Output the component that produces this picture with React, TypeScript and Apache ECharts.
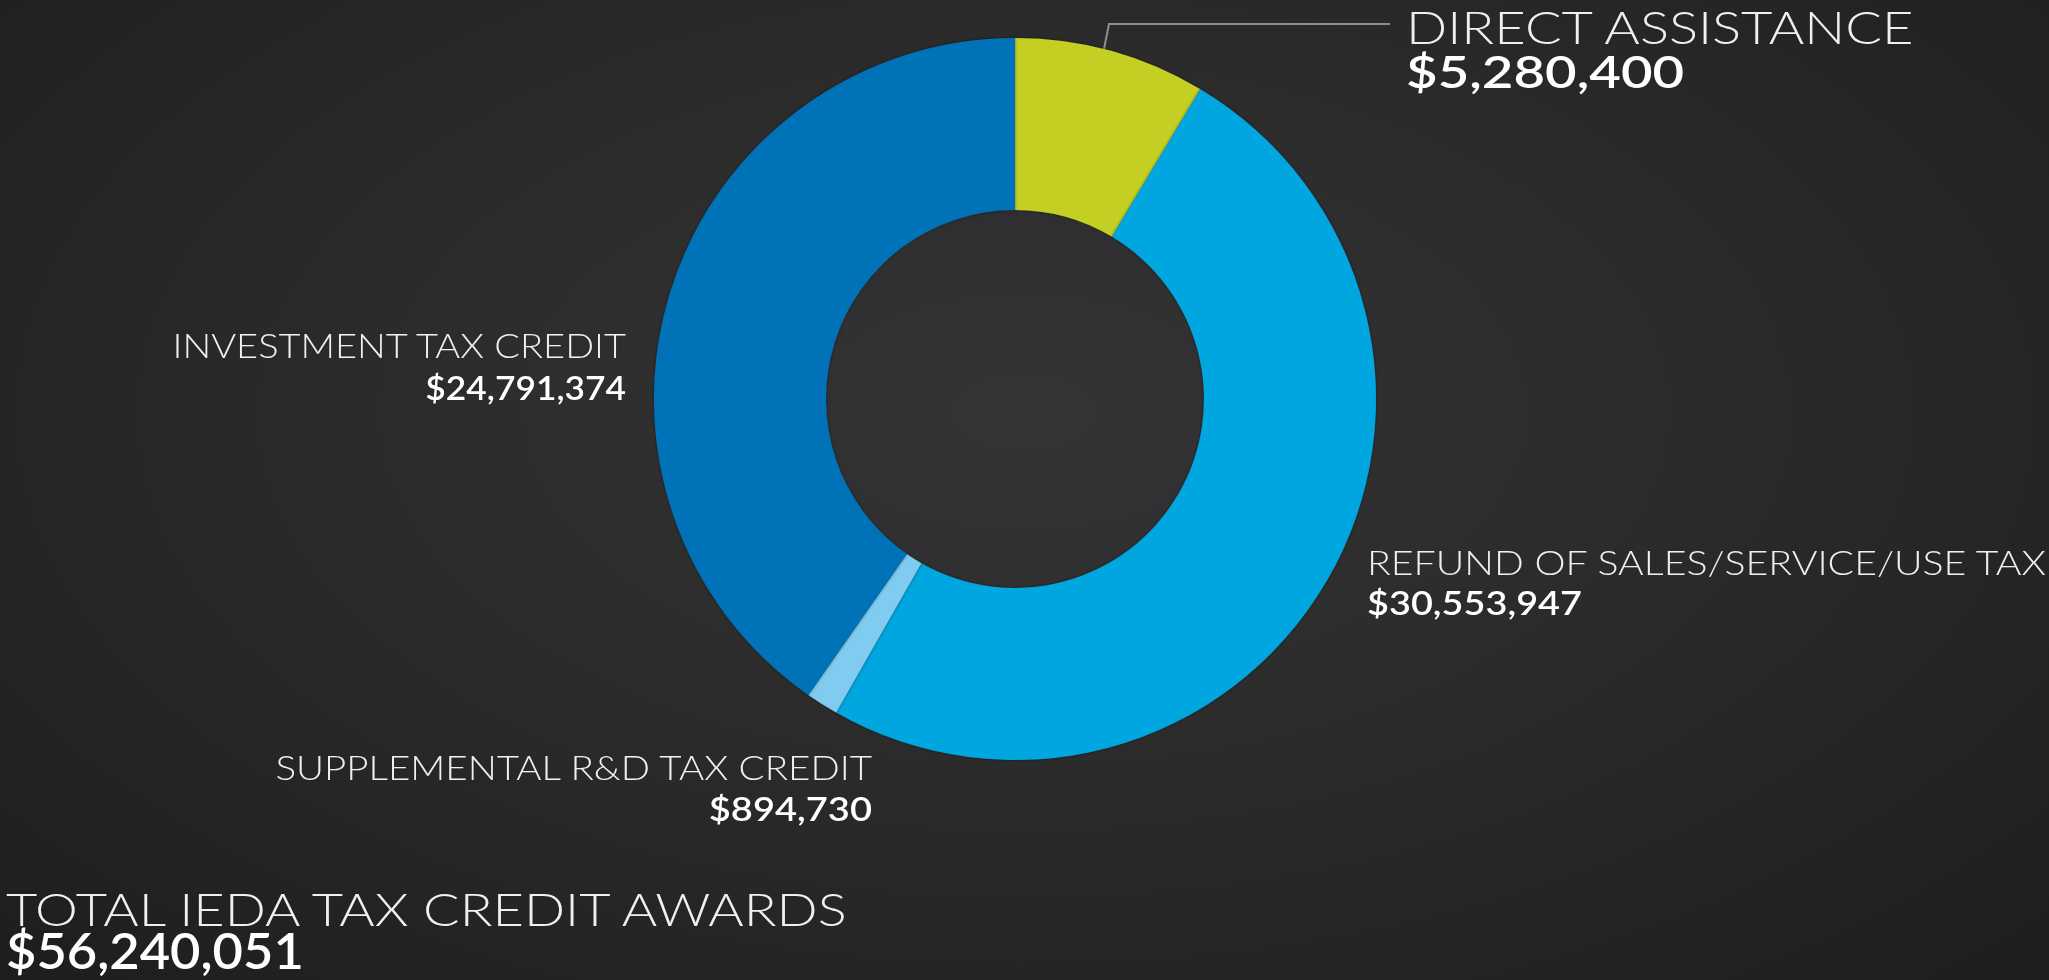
import React, { useEffect, useRef } from "react";
import * as echarts from "echarts";

const categories = [
  "DIRECT ASSISTANCE",
  "REFUND OF SALES/SERVICE/USE TAX",
  "SUPPLEMENTAL R&D TAX CREDIT",
  "INVESTMENT TAX CREDIT",
];
const values = [5280400, 30553947, 894730, 24791374];
const isTaxCredit = [false, true, true, true];
const colors = ["#C3CF22", "#05A6E0", "#80CCF0", "#0672B8"];
const totalTitle = "TOTAL IEDA TAX CREDIT AWARDS";

const fmt = (v: number) => "$" + v.toLocaleString("en-US");

// label placement (layout / style only)
const labelPlaces = [
  { x: 1406, align: "left", nameY: 27, nameSize: 44.6, nameScale: 1.217, valY: 71, valSize: 44, valScale: 1.24 },
  { x: 1367, align: "left", nameY: 562, nameSize: 33, nameScale: 1.19, valY: 602, valSize: 33.5, valScale: 1.13 },
  { x: 872, align: "right", nameY: 767, nameSize: 33.5, nameScale: 1.15, valY: 808, valSize: 33.5, valScale: 1.136 },
  { x: 626, align: "right", nameY: 345.5, nameSize: 33, nameScale: 1.153, valY: 388, valSize: 32.5, valScale: 1.087 },
];
const totalPlace = { x: 6, nameY: 909, nameSize: 45.6, nameScale: 1.187, valY: 950, valSize: 49, valScale: 1.07 };
const leaderLine = [[1097, 84], [1109, 24], [1390, 24]];

const NAME_FONT = "Lato";
const VAL_FONT = "Lato";

function txt(text: string, x: number, y: number, size: number, scale: number, align: string, bold: boolean) {
  return {
    type: "text",
    x,
    y,
    scaleX: scale,
    scaleY: 1,
    silent: true,
    style: {
      text,
      fontFamily: bold ? VAL_FONT : NAME_FONT,
      fontWeight: bold ? 600 : 300,
      fontSize: size,
      fill: bold ? "#ffffff" : "#f0f0f0",
      align,
      verticalAlign: "middle",
    },
  };
}

export default function App() {
  const ref = useRef<HTMLDivElement>(null);
  useEffect(() => {
    document.body.style.margin = "0";
    const chart = echarts.init(ref.current!, null, { renderer: "svg" });
    const total = values.reduce((s, v, i) => (isTaxCredit[i] ? s + v : s), 0);
    const graphics: any[] = [];
    categories.forEach((c, i) => {
      const p = labelPlaces[i];
      graphics.push(txt(c, p.x, p.nameY, p.nameSize, p.nameScale, p.align, false));
      graphics.push(txt(fmt(values[i]), p.x, p.valY, p.valSize, p.valScale, p.align, true));
    });
    graphics.push(txt(totalTitle, totalPlace.x, totalPlace.nameY, totalPlace.nameSize, totalPlace.nameScale, "left", false));
    graphics.push(txt(fmt(total), totalPlace.x, totalPlace.valY, totalPlace.valSize, totalPlace.valScale, "left", true));
    graphics.push({
      type: "polyline",
      silent: true,
      shape: { points: leaderLine },
      style: { stroke: "#8e8e8e", lineWidth: 2, fill: "none" },
    });
    chart.setOption({
      animation: false,
      backgroundColor: "transparent",
      graphic: graphics,
      series: [
        {
          type: "pie",
          center: [1015, 399],
          radius: [189, 361],
          startAngle: 90,
          clockwise: true,
          label: { show: false },
          labelLine: { show: false },
          itemStyle: { shadowBlur: 3, shadowColor: "rgba(0,0,0,0.5)" },
          data: categories.map((c, i) => ({
            name: c,
            value: values[i],
            itemStyle: { color: colors[i] },
          })),
        },
      ],
    });
    return () => chart.dispose();
  }, []);
  return (
    <div
      style={{
        position: "fixed",
        left: 0,
        top: 0,
        width: 2049,
        height: 980,
        background:
          "radial-gradient(ellipse 70% 80% at 50% 42%, #343436 0%, #2b2b2c 45%, #1e1e1f 100%)",
      }}
    >
      <div ref={ref} style={{ width: 2049, height: 980 }} />
    </div>
  );
}
